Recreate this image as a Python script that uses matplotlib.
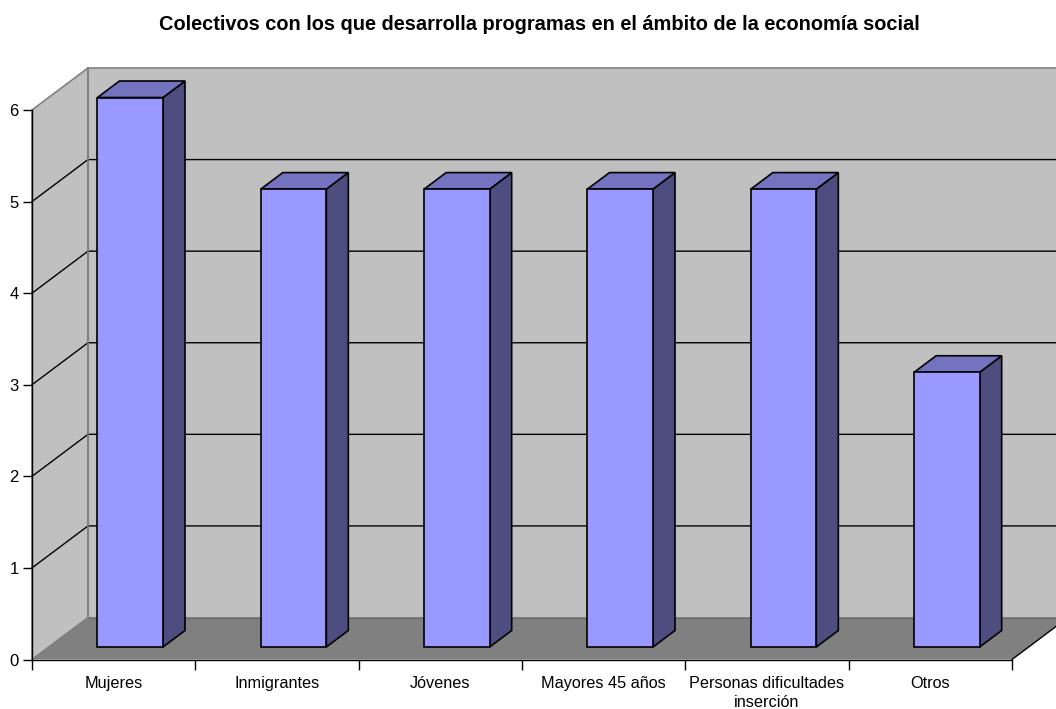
import matplotlib
matplotlib.use("Agg")
import matplotlib.pyplot as plt
from matplotlib.patches import Polygon

plt.rcParams['font.family'] = ['Liberation Sans', 'DejaVu Sans']

TITLE = "Colectivos con los que desarrolla programas en el ámbito de la economía social"
categories = ["Mujeres", "Inmigrantes", "Jóvenes", "Mayores 45 años",
              "Personas dificultades\ninserción", "Otros"]
values = [6, 5, 5, 5, 5, 3]
y_ticks = [0, 1, 2, 3, 4, 5, 6]

W, H = 1056, 709
fig = plt.figure(figsize=(W / 100, H / 100), dpi=100, facecolor="white")
X0, X1, Y0, Y1 = 32.0, 1012.0, 659.5, 110.0
ax = fig.add_axes([X0 / W, 1 - Y0 / H, (X1 - X0) / W, (Y0 - Y1) / H])
n = len(categories)
ax.set_xlim(0, n)
ax.set_ylim(0, 6)
ax.patch.set_visible(False)

ux = (X1 - X0) / n      # pixels per category
uy = (Y0 - Y1) / 6      # pixels per value unit
DX, DY = 56 / ux, 42 / uy          # chart depth in data units
BAR_W = 65.5 / ux
BAR_OX, BAR_OY = 65.5 / ux, 12.5 / uy   # front offset of the bar inside its slot
BDX, BDY = 22 / ux, 16.5 / uy      # bar depth


def poly(pts, fc, ec, lw=1.0, z=1):
    ax.add_patch(Polygon(pts, closed=True, facecolor=fc, edgecolor=ec, linewidth=lw,
                         zorder=z, clip_on=False, joinstyle="miter"))


XMAX = n + DX
# walls and floor
poly([(DX, DY), (XMAX + 0.5, DY), (XMAX + 0.5, 6 + DY), (DX, 6 + DY)], "#C0C0C0", "#808080", 1.2, 1)
poly([(0, 0), (DX, DY), (DX, 6 + DY), (0, 6)], "#C0C0C0", "#808080", 1.2, 1)
poly([(0, 0), (n, 0), (XMAX, DY), (DX, DY)], "#808080", "none", 0, 2)
ax.plot([n, XMAX], [0, DY], color="black", lw=1, zorder=2, clip_on=False)
ax.plot([DX, XMAX + 0.5], [DY, DY], color="#6E6E6E", lw=1, zorder=2, clip_on=False)
ax.plot([DX, DX], [DY, 6 + DY], color="#808080", lw=1.2, zorder=3, clip_on=False)

# gridlines
for v in y_ticks[1:-1]:
    ax.plot([0, DX, XMAX + 0.5], [v, v + DY, v + DY], color="black", lw=1, zorder=2,
            clip_on=False, solid_joinstyle="miter")

# bars
for i, v in enumerate(values):
    x0 = i + BAR_OX
    x1 = x0 + BAR_W
    y0 = BAR_OY
    y1 = y0 + v
    poly([(x1, y0), (x1 + BDX, y0 + BDY), (x1 + BDX, y1 + BDY), (x1, y1)], "#4D4D80", "black", 1.2, 5)
    poly([(x0, y1), (x1, y1), (x1 + BDX, y1 + BDY), (x0 + BDX, y1 + BDY)], "#7373BF", "black", 1.2, 5)
    poly([(x0, y0), (x1, y0), (x1, y1), (x0, y1)], "#9999FF", "black", 1.2, 6)

# axes
for s in ("top", "right"):
    ax.spines[s].set_visible(False)
for s in ("left", "bottom"):
    ax.spines[s].set_linewidth(1.0)
    ax.spines[s].set_zorder(7)
ax.set_yticks(y_ticks)
ax.set_xticks(range(n + 1))
ax.set_xticklabels([])
ax.set_xticks([i + 0.5 for i in range(n)], categories, minor=True)
ax.tick_params(axis="x", which="major", length=7, width=1.0, direction="out")
ax.tick_params(axis="x", which="minor", length=0, pad=12, labelsize=11.7)
ax.tick_params(axis="y", length=6.5, width=1.0, direction="out", pad=3, labelsize=12)
for t in ax.get_xticklabels(minor=True):
    t.set_linespacing(1.35)

fig.text(539 / W, 1 - 30 / H, TITLE, ha="center", va="baseline", fontweight="bold", fontsize=14.4)

fig.savefig("out.png", dpi=100)
